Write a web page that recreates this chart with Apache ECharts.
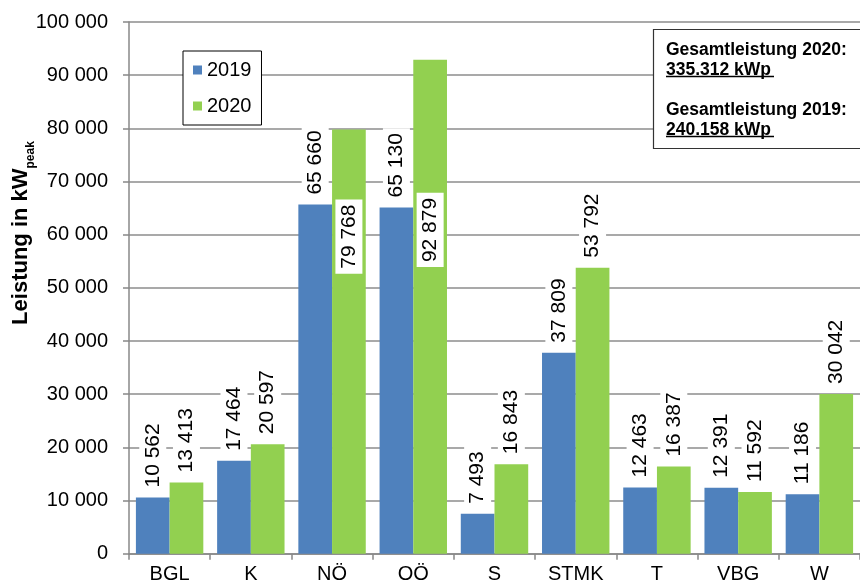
<!DOCTYPE html>
<html>
<head>
<meta charset="utf-8">
<script src="https://cdn.jsdelivr.net/npm/echarts@6/dist/echarts.min.js"></script>
<style>html,body{margin:0;padding:0;background:#fff;}#c{width:860px;height:588px;}</style>
</head>
<body>
<div id="c"></div>
<script>
const categories = ['BGL', 'K', 'NÖ', 'OÖ', 'S', 'STMK', 'T', 'VBG', 'W'];
const values2019 = [10562, 17464, 65660, 65130, 7493, 37809, 12463, 12391, 11186];
const values2020 = [13413, 20597, 79768, 92879, 16843, 53792, 16387, 11592, 30042];
const seriesNames = ['2019', '2020'];
const yTicks = { min: 0, max: 100000, interval: 10000 };
const axisTitle = 'Leistung in kW';
const axisTitleSub = 'peak';
const infoLines = ['Gesamtleistung 2020:', '335.312 kWp', 'Gesamtleistung 2019:', '240.158 kWp'];

const FONT = '"Liberation Sans", Arial, sans-serif';
function fmt(v) { return String(v).replace(/\B(?=(\d{3})+(?!\d))/g, ' '); }

const labelAbove = {
  show: true, position: 'top', rotate: 90, align: 'left', verticalAlign: 'middle',
  distance: 5, fontFamily: FONT, fontSize: 21, color: '#000',
  backgroundColor: '#fff', padding: [3, 5],
  formatter: p => fmt(p.value)
};
const insideDist = { 'NÖ': 70, 'OÖ': 133 };
const data2020 = values2020.map((v, i) => {
  if (insideDist[categories[i]] !== undefined) {
    return { value: v, label: { position: 'insideTop', align: 'right', distance: insideDist[categories[i]] } };
  }
  return v;
});

const chart = echarts.init(document.getElementById('c'), null, { renderer: 'canvas' });
chart.setOption({
  animation: false,
  backgroundColor: '#fff',
  textStyle: { fontFamily: FONT },
  grid: { left: 129, top: 22, width: 739, bottom: 34.3, containLabel: false },
  legend: {
    data: seriesNames, orient: 'vertical', left: 183, top: 51,
    padding: [9, 10, 9, 10], itemGap: 16, itemWidth: 9, itemHeight: 9,
    borderColor: '#000', borderWidth: 1, backgroundColor: '#fff',
    textStyle: { fontSize: 20, color: '#000', fontFamily: FONT },
    icon: 'rect'
  },
  xAxis: {
    type: 'category', data: categories,
    axisLine: { lineStyle: { color: '#888', width: 1.5 } },
    axisTick: { show: true, length: 6, alignWithLabel: false, lineStyle: { color: '#888', width: 1.5 } },
    axisLabel: { fontSize: 20, color: '#000', margin: 11, fontFamily: FONT }
  },
  yAxis: {
    type: 'value', min: yTicks.min, max: yTicks.max, interval: yTicks.interval,
    axisLine: { show: true, lineStyle: { color: '#888', width: 1.5 } },
    axisTick: { show: true, length: 6, lineStyle: { color: '#888', width: 1.5 } },
    splitLine: { lineStyle: { color: '#8c8c8c', width: 1.5 } },
    axisLabel: { fontSize: 20, color: '#000', margin: 21, fontFamily: FONT, formatter: v => fmt(v) }
  },
  series: [
    { name: seriesNames[0], type: 'bar', data: values2019, barGap: '0%', barCategoryGap: '17%',
      itemStyle: { color: '#4f81bd' }, label: labelAbove, z: 2 },
    { name: seriesNames[1], type: 'bar', data: data2020, barGap: '0%', barCategoryGap: '17%',
      itemStyle: { color: '#92d050' }, label: labelAbove, z: 2 }
  ],
  graphic: [
    { type: 'text', x: 18, y: 233, rotation: Math.PI / 2,
      style: {
        text: '{a|' + axisTitle + '}{s|' + axisTitleSub + '}',
        align: 'center', verticalAlign: 'middle',
        rich: {
          a: { fontFamily: FONT, fontWeight: 'bold', fontSize: 22, lineHeight: 28, verticalAlign: 'bottom', fill: '#000' },
          s: { fontFamily: FONT, fontWeight: 'bold', fontSize: 12, lineHeight: 28, verticalAlign: 'bottom', padding: [0, 0, -5, 0], fill: '#000' }
        }
      } },
    { type: 'rect', shape: { x: 653.5, y: 29.5, width: 230, height: 119 },
      style: { fill: '#fff', stroke: '#333', lineWidth: 1.2 }, z: 10 },
    { type: 'text', x: 666, y: 50, z: 11, style: { text: infoLines[0], font: 'bold 17.5px ' + FONT, fill: '#000', verticalAlign: 'middle' } },
    { type: 'text', x: 666, y: 70, z: 11, style: { text: infoLines[1], font: 'bold 17.5px ' + FONT, fill: '#000', verticalAlign: 'middle' } },
    { type: 'line', z: 11, shape: { x1: 666, y1: 76.5, x2: 774, y2: 76.5 }, style: { stroke: '#000', lineWidth: 1.5 } },
    { type: 'text', x: 666, y: 110, z: 11, style: { text: infoLines[2], font: 'bold 17.5px ' + FONT, fill: '#000', verticalAlign: 'middle' } },
    { type: 'text', x: 666, y: 130, z: 11, style: { text: infoLines[3], font: 'bold 17.5px ' + FONT, fill: '#000', verticalAlign: 'middle' } },
    { type: 'line', z: 11, shape: { x1: 666, y1: 136.5, x2: 774, y2: 136.5 }, style: { stroke: '#000', lineWidth: 1.5 } }
  ]
});
</script>
</body>
</html>
